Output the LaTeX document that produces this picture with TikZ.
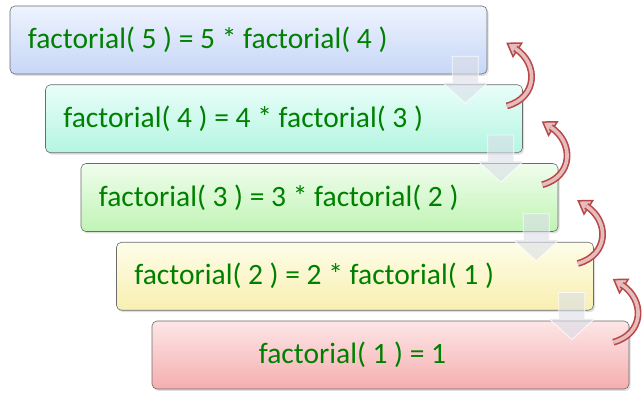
\documentclass[tikz,border=0pt]{standalone}
\usepackage{fontspec}
\setmainfont{Carlito}
\usetikzlibrary{positioning,calc,shadows}
\definecolor{txtgreen}{RGB}{0,128,0}
\definecolor{blueTop}{HTML}{EEF3FE}\definecolor{blueBot}{HTML}{C7D7F7}
\definecolor{aquaTop}{HTML}{E9FEF9}\definecolor{aquaBot}{HTML}{B4F5E1}
\definecolor{greenTop}{HTML}{F0FDEC}\definecolor{greenBot}{HTML}{C0F4B5}
\definecolor{yellowTop}{HTML}{FEFDE9}\definecolor{yellowBot}{HTML}{F8EFB0}
\definecolor{redTop}{HTML}{FDE6E7}\definecolor{redBot}{HTML}{F5AEAE}
\definecolor{arrgray}{RGB}{218,222,232}
\definecolor{arcred}{HTML}{B9474A}
\definecolor{arcpink}{HTML}{E6BDBD}
\tikzset{
  box/.style={rectangle, rounded corners=5pt, draw=gray!85!black, line width=0.6pt,
    minimum width=477pt, minimum height=68pt, inner sep=0pt,
    drop shadow={shadow xshift=1.5pt, shadow yshift=-2pt, opacity=0.25}},
  txt/.style={inner sep=0pt, text=txtgreen, font=\fontsize{29.5}{32}\selectfont},
  downarr/.style={fill=arrgray, fill opacity=0.6, draw=white, draw opacity=0.8, line width=0.8pt},
  archead/.style={draw=arcred, fill=arcpink, line width=1.5pt, line join=miter},
  arcbody/.style={draw=arcred, double=arcpink, double distance=3.6pt, line width=1.6pt},
}
\begin{document}
\begin{tikzpicture}[x=1pt,y=1pt]
    \useasboundingbox (0,0) rectangle (644,403);
    % the five calls
    \foreach \i/\c in {1/blue,2/aqua,3/green,4/yellow,5/red}
        \node[box, top color=\c Top, bottom color=\c Bot] (b\i) at ({248.5+35.5*(\i-1)},{363-78.75*(\i-1)}) {};
    \node[txt, right=18pt of b1.west] (t1) {factorial( 5 ) = 5 * factorial( 4 )};
    \node[txt, right=18pt of b2.west] (t2) {factorial( 4 ) = 4 * factorial( 3 )};
    \node[txt, right=18pt of b3.west] (t3) {factorial( 3 ) = 3 * factorial( 2 )};
    \node[txt, right=18pt of b4.west] (t4) {factorial( 2 ) = 2 * factorial( 1 )};
    \node[txt, right=107pt of b5.west] (t5) {factorial( 1 ) = 1};
    % calls going down, results going back up
    \foreach \i/\j in {1/2,2/3,3/4,4/5} {
        \draw[downarr] ([xshift=-22pt,yshift=18pt]b\i.south east) ++(-13pt,0) -- ++(26pt,0) -- ++(0,-26pt)
            -- ++(10pt,0) -- ++(-23pt,-21pt) -- ++(-23pt,21pt) -- ++(10pt,0) -- cycle;
        \coordinate (tip\i) at ([xshift=20pt,yshift=31pt]b\i.south east);
        \coordinate (base\i) at ($(tip\i)+(-33:12pt)$);
        \coordinate (tail\i) at ([xshift=-16pt,yshift=-21.5pt]b\j.north east);
        \draw[archead] ($(base\i)!8pt!90:(tip\i)$) -- (tip\i) -- ($(base\i)!8pt!-90:(tip\i)$) -- cycle;
        \draw[arcbody] (tail\i) .. controls +(15:32pt) and +(-33:28pt) .. ($(base\i)!2.5pt!(tip\i)$);
    }
\end{tikzpicture}
\end{document}
